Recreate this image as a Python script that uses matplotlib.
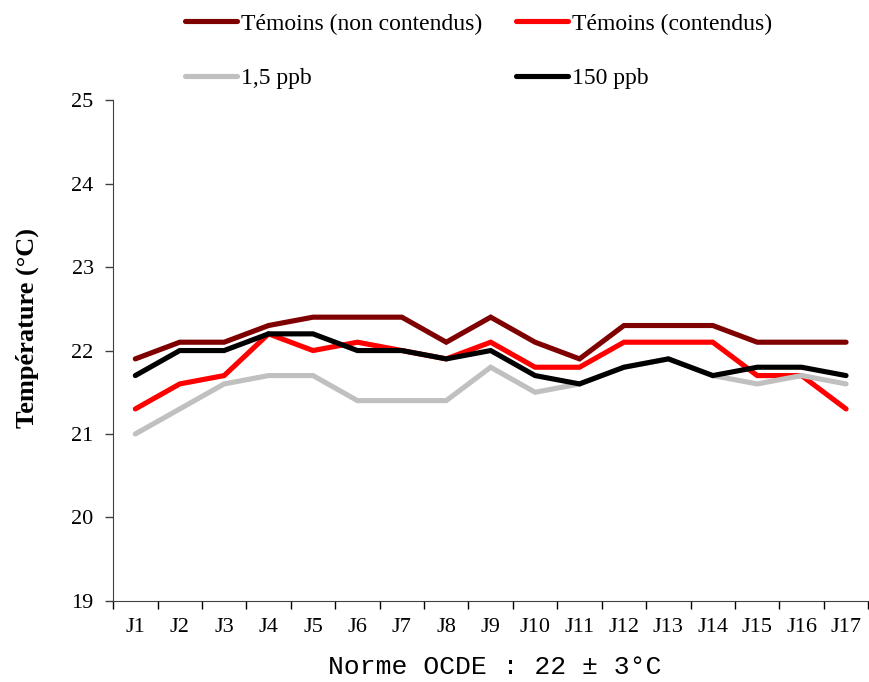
import matplotlib
matplotlib.use("Agg")
import matplotlib.pyplot as plt
import numpy as np

days = ["J1", "J2", "J3", "J4", "J5", "J6", "J7", "J8", "J9", "J10",
        "J11", "J12", "J13", "J14", "J15", "J16", "J17"]
temoins_non = [21.9, 22.1, 22.1, 22.3, 22.4, 22.4, 22.4, 22.1, 22.4, 22.1,
               21.9, 22.3, 22.3, 22.3, 22.1, 22.1, 22.1]
temoins_cont = [21.3, 21.6, 21.7, 22.2, 22.0, 22.1, 22.0, 21.9, 22.1, 21.8,
                21.8, 22.1, 22.1, 22.1, 21.7, 21.7, 21.3]
ppb_1_5 = [21.0, 21.3, 21.6, 21.7, 21.7, 21.4, 21.4, 21.4, 21.8, 21.5,
           21.6, 21.8, 21.9, 21.7, 21.6, 21.7, 21.6]
ppb_150 = [21.7, 22.0, 22.0, 22.2, 22.2, 22.0, 22.0, 21.9, 22.0, 21.7,
           21.6, 21.8, 21.9, 21.7, 21.8, 21.8, 21.7]
labels = ["Témoins (non contendus)", "Témoins (contendus)", "1,5 ppb", "150 ppb"]
colors = ["#7F0000", "#FF0000", "#C0C0C0", "#000000"]

plt.rcParams["font.family"] = ["Liberation Serif", "DejaVu Serif"]

fig = plt.figure(figsize=(8.7, 6.82), dpi=100)
ax = fig.add_axes([0.13, 0.119, 0.868, 0.734])

x = np.arange(len(days))
series = [temoins_non, temoins_cont, ppb_1_5, ppb_150]
handles = []
for s, c, lab in zip(series, colors, labels):
    h, = ax.plot(x, s, color=c, lw=3.7, label=lab, solid_capstyle="round",
                 solid_joinstyle="miter")
    handles.append(h)

ax.set_xlim(-0.5, len(days) - 0.5)
ax.set_ylim(19, 25)
ax.set_yticks(np.arange(19, 26, 1))
ax.set_xticks(x)
ax.set_xticklabels(days)
ax.set_xticks(np.arange(-0.5, len(days), 1), minor=True)
ax.tick_params(axis="x", which="major", length=0, pad=12, labelsize=16)
ax.tick_params(axis="x", which="minor", length=6, direction="out", width=1)
ax.tick_params(axis="y", which="major", length=6, direction="out", width=1,
               labelsize=16, pad=8)
for sp in ["top", "right"]:
    ax.spines[sp].set_visible(False)
for sp in ["left", "bottom"]:
    ax.spines[sp].set_color("#404040")
ax.tick_params(colors="#404040", labelcolor="black")

ax.set_ylabel("Température (°C)", fontsize=19, fontweight="bold")
ax.yaxis.set_label_coords(-0.098, 0.545)

# legend: order row-wise
order = [0, 2, 1, 3]
leg = fig.legend([handles[i] for i in order], [labels[i] for i in order],
                 loc="upper left", bbox_to_anchor=(0.188, 1.012), ncol=2,
                 frameon=False, fontsize=17, handlelength=2.2, handletextpad=0.2,
                 labelspacing=1.4, columnspacing=1.4)

fig.text(0.569, 0.005, "Norme OCDE : 22 ± 3°C", ha="center", va="bottom",
         fontsize=19, family=["Liberation Mono", "DejaVu Sans Mono"])

fig.savefig("out.png", dpi=100)
